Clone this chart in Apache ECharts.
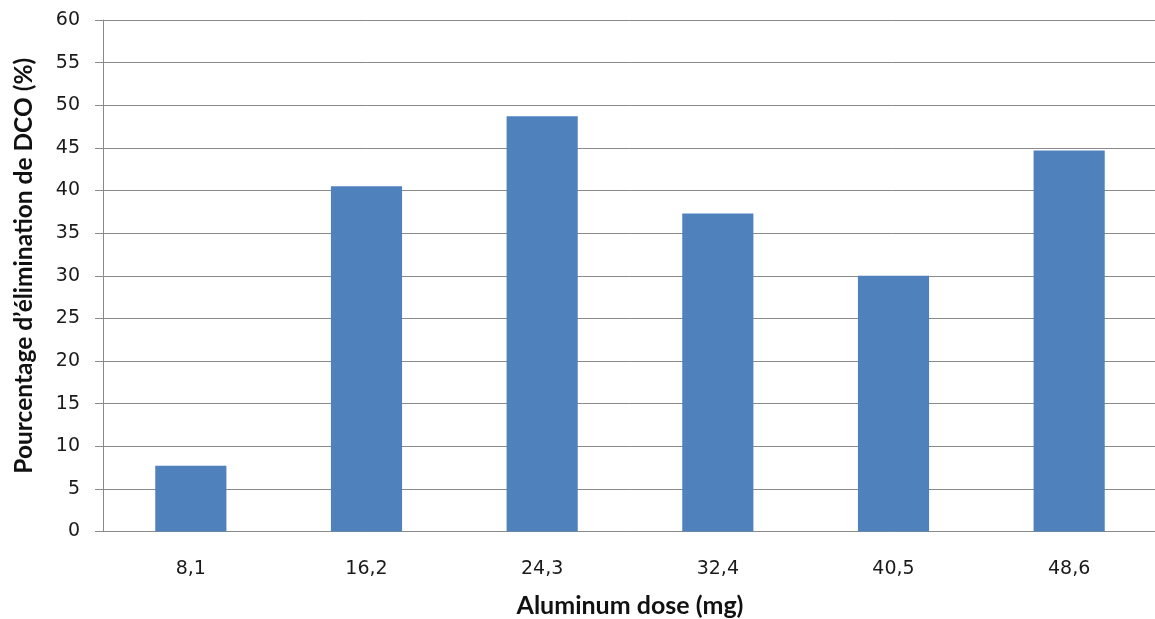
<!DOCTYPE html>
<html>
<head>
<meta charset="utf-8">
<script src="https://cdn.jsdelivr.net/npm/echarts@6/dist/echarts.min.js"></script>
<style>
  html, body { margin: 0; padding: 0; background: #fff; }
  #chart { width: 1155px; height: 619px; }
</style>
</head>
<body>
<div id="chart"></div>
<script>
// Aluminum dose (mg) and COD removal percentage
const doses = ['8,1', '16,2', '24,3', '32,4', '40,5', '48,6'];
const removal = [7.7, 40.5, 48.7, 37.3, 30.0, 44.7];

const yMin = 0;
const yMax = 60;
const yStep = 5;

const chart = echarts.init(document.getElementById('chart'), null, { renderer: 'canvas' });

chart.setOption({
  animation: false,
  backgroundColor: '#ffffff',
  grid: {
    left: 103, right: -2, top: 20, bottom: 87.5,
    containLabel: false,
    outerBoundsMode: 'none'
  },
  xAxis: {
    type: 'category',
    data: doses,
    name: 'Aluminum dose (mg)',
    nameLocation: 'middle',
    nameGap: 62,
    nameTextStyle: { fontFamily: 'Lato', fontWeight: 'bold', fontSize: 25, color: '#111' },
    axisLine: { show: true, lineStyle: { color: '#8a8a8a', width: 1 } },
    axisTick: { show: false },
    axisLabel: { margin: 28, fontFamily: 'DejaVu Sans', fontSize: 19, color: '#1a1a1a' }
  },
  yAxis: {
    type: 'value',
    min: yMin,
    max: yMax,
    interval: yStep,
    name: 'Pourcentage d\u2019élimination de DCO (%)',
    nameLocation: 'middle',
    nameGap: 66,
    nameTextStyle: {
      fontFamily: 'Lato', fontWeight: 'bold', fontSize: 24.5, color: '#111',
      padding: [0, 0, 0, 20]
    },
    axisLine: { show: true, lineStyle: { color: '#8a8a8a', width: 1 } },
    axisTick: { show: true, length: 8, lineStyle: { color: '#8a8a8a' } },
    axisLabel: { margin: 23, fontFamily: 'DejaVu Sans', fontSize: 19, color: '#1a1a1a' },
    splitLine: { show: true, lineStyle: { color: '#8a8a8a', width: 1 } }
  },
  series: [{
    type: 'bar',
    data: removal,
    barWidth: '40.5%',
    itemStyle: { color: '#4f81bd' }
  }]
});
</script>
</body>
</html>
